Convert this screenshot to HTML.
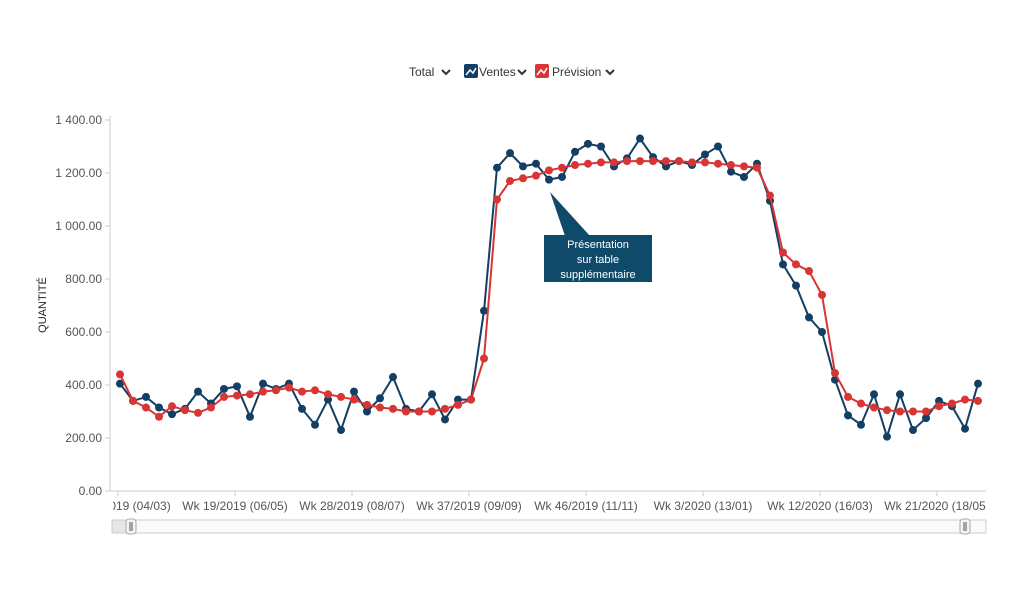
<!DOCTYPE html>
<html><head><meta charset="utf-8"><style>
body{margin:0;background:#fff;width:1024px;height:597px;overflow:hidden;font-family:"Liberation Sans",sans-serif}
svg{position:absolute;left:0;top:0}
</style></head><body>
<svg width="1024" height="597">
<g font-size="12" fill="#333">
<text x="409" y="76">Total</text>
<path d="M442 70l4 4 4-4" stroke="#333" stroke-width="2" fill="none"/>
<rect x="464" y="64" width="14" height="14" rx="2" fill="#123f63"/>
<path d="M466 75l4-5 3 3 3-5" stroke="#fff" stroke-width="1.5" fill="none"/>
<text x="479" y="76">Ventes</text>
<path d="M518 70l4 4 4-4" stroke="#333" stroke-width="2" fill="none"/>
<rect x="535" y="64" width="14" height="14" rx="2" fill="#d83535"/>
<path d="M537 75l4-5 3 3 3-5" stroke="#fff" stroke-width="1.5" fill="none"/>
<text x="552" y="76">Prévision</text>
<path d="M606 70l4 4 4-4" stroke="#333" stroke-width="2" fill="none"/>
</g>
<text transform="translate(46,305) rotate(-90)" text-anchor="middle" font-size="11" fill="#222">QUANTITÉ</text>
<g id="yaxis"></g>
<g id="xaxis"></g>
<g id="series"></g>
<g>
<path d="M550 192L565 236L590 236Z" fill="#0f4a6b"/>
<rect x="544" y="235" width="108" height="47" fill="#0f4a6b"/>
<text x="598" y="248" text-anchor="middle" font-size="11" fill="#fff">Présentation</text>
<text x="598" y="263" text-anchor="middle" font-size="11" fill="#fff">sur table</text>
<text x="598" y="278" text-anchor="middle" font-size="11" fill="#fff">supplémentaire</text>
</g>
<g>
<rect x="112" y="520" width="874" height="13" fill="#fafafa" stroke="#ccc"/>
<rect x="112" y="520" width="17" height="13" fill="#e6e6e6" stroke="#ccc"/>
<rect x="126" y="519" width="10" height="15" rx="3" fill="#f4f4f4" stroke="#aaa"/>
<path d="M130 522v9M132 522v9" stroke="#555"/>
<rect x="960" y="519" width="10" height="15" rx="3" fill="#f4f4f4" stroke="#aaa"/>
<path d="M964 522v9M966 522v9" stroke="#555"/>
</g>
</svg>
<script>
const yTicks=[0,200,400,600,800,1000,1200,1400];
const yTickLabels=["0.00","200.00","400.00","600.00","800.00","1 000.00","1 200.00","1 400.00"];
const xLabels=["Wk 10/2019 (04/03)","Wk 19/2019 (06/05)","Wk 28/2019 (08/07)","Wk 37/2019 (09/09)","Wk 46/2019 (11/11)","Wk 3/2020 (13/01)","Wk 12/2020 (16/03)","Wk 21/2020 (18/05)"];
const ventes=[405,340,355,315,290,310,375,330,385,395,280,405,385,405,310,250,345,230,375,300,350,430,310,300,365,270,345,345,680,1220,1275,1225,1235,1175,1185,1280,1310,1300,1225,1255,1330,1260,1225,1245,1230,1270,1300,1205,1185,1235,1095,855,775,655,600,420,285,250,365,205,365,230,275,340,320,235,405];
const prevision=[440,340,315,280,320,305,295,315,355,360,365,375,380,390,375,380,365,355,345,325,315,310,300,300,300,310,325,345,500,1100,1170,1180,1190,1210,1220,1230,1235,1240,1240,1245,1245,1245,1245,1245,1240,1240,1235,1230,1225,1220,1115,900,855,830,740,445,355,330,315,305,300,300,300,320,330,345,340];
const NS="http://www.w3.org/2000/svg";
const y=v=>491-v*(371/1400);
const x=i=>120+i*13;
function mk(t,a,p){const e=document.createElementNS(NS,t);for(const k in a)e.setAttribute(k,a[k]);p.appendChild(e);return e;}
const ya=document.getElementById('yaxis');
mk('line',{x1:110,y1:116,x2:110,y2:491,stroke:'#ccc'},ya);
yTicks.forEach((v,i)=>{
 mk('line',{x1:105,x2:110,y1:y(v),y2:y(v),stroke:'#ccc'},ya);
 const t=mk('text',{x:102,y:y(v)+4,'text-anchor':'end','font-size':12,fill:'#555'},ya);
 
 
 t.textContent=yTickLabels[i];
});
const xa=document.getElementById('xaxis');
mk('line',{x1:110,y1:491,x2:986,y2:491,stroke:'#ccc'},xa);
const cp=mk('clipPath',{id:'xc'},xa);mk('rect',{x:113,y:495,width:873,height:20},cp);
const lg=mk('g',{'clip-path':'url(#xc)'},xa);
xLabels.forEach((l,i)=>{
 const xx=x(i*9)-2;
 mk('line',{x1:xx,x2:xx,y1:491,y2:496,stroke:'#ccc'},xa);
 const t=mk('text',{x:xx,y:510,'text-anchor':'middle','font-size':12,fill:'#555'},lg);
 
 
 t.textContent=l;
});
const sg=document.getElementById('series');
function draw(arr,col,name){
 const g=mk('g',{},sg);
 
 
 mk('polyline',{points:arr.map((v,i)=>x(i)+','+y(v)).join(' '),fill:'none',stroke:col,'stroke-width':2},g);
 arr.forEach((v,i)=>{const c=mk('circle',{cx:x(i),cy:y(v),r:4,fill:col},g);
  
  });
}
draw(ventes,'#123f63','ventes-series');
draw(prevision,'#d83535','prevision-series');
</script>
</body></html>
